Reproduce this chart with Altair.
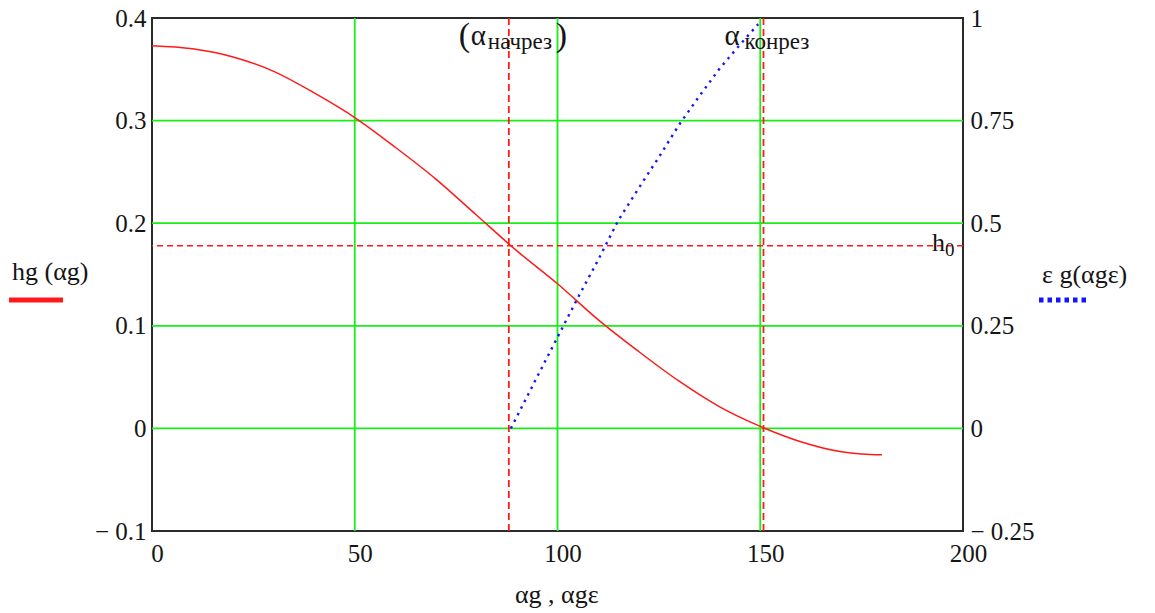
import altair as alt
import pandas as pd

# hg(αg) — height curve
alpha_g = [0, 10, 20, 30, 40, 50, 60, 70, 80, 90, 100, 110, 120, 130, 140,
           150, 160, 170, 175, 180]
hg = [0.373, 0.370, 0.362, 0.348, 0.327, 0.303, 0.274, 0.243, 0.208, 0.173,
      0.141, 0.106, 0.075, 0.046, 0.021, 0.002, -0.013, -0.0228, -0.025, -0.0258]

# εg(αgε) — right-hand scale
alpha_ge = [88.5, 95, 100, 105, 110, 115, 120, 125, 130, 135, 140, 145, 149.5]
eg = [0.0, 0.126, 0.222, 0.318, 0.41, 0.507, 0.585, 0.661, 0.74, 0.81,
      0.877, 0.935, 0.985]

h0 = 0.178
alpha_start = 88.0   # α начрез
alpha_end = 150.8    # α конрез

x_ticks = [0, 50, 100, 150, 200]
y_left_ticks = [-0.1, 0, 0.1, 0.2, 0.3, 0.4]
y_right_ticks = [-0.25, 0, 0.25, 0.5, 0.75, 1]
x_grid = [50, 100, 150]
y_grid = [0, 0.1, 0.2, 0.3]

SERIF = "'Liberation Serif', 'Times New Roman', 'DejaVu Serif', serif"
INK = "#151515"
GREEN = "#19ee19"
RED = "#ff1a1a"
BLUE = "#1414ff"

W, H = 811, 513

xs = alt.Scale(domain=[0, 200], nice=False, zero=False)
ys_left = alt.Scale(domain=[-0.1, 0.4], nice=False, zero=False)
ys_right = alt.Scale(domain=[-0.25, 1], nice=False, zero=False)

neg_fmt = "datum.value < 0 ? '\u2212 ' + format(-datum.value, '~g') : format(datum.value, '~g')"

x_axis = alt.Axis(values=x_ticks, title=None, grid=False, ticks=False, tickSize=0,
                  domain=False, labelFont=SERIF, labelFontSize=25, labelColor=INK,
                  labelPadding=10, labelOffset=5, labelAngle=0, labelFlush=False)
yl_axis = alt.Axis(values=y_left_ticks, title=None, grid=False, ticks=False, tickSize=0,
                   domain=False, orient="left", labelFont=SERIF, labelFontSize=25,
                   labelColor=INK, labelPadding=6, labelExpr=neg_fmt, labelFlush=False,
                   labelBaseline="middle")
yr_axis = alt.Axis(values=y_right_ticks, title=None, grid=False, ticks=False, tickSize=0,
                   domain=False, orient="right", labelFont=SERIF, labelFontSize=25,
                   labelColor=INK, labelPadding=7, labelExpr=neg_fmt, labelFlush=False,
                   labelBaseline="middle", labelAlign="left")

# every layer on a shared scale carries the same axis definition
X = lambda f: alt.X(f, scale=xs, axis=x_axis)
YL = lambda f: alt.Y(f, scale=ys_left, axis=yl_axis)

curve = pd.DataFrame({"a": alpha_g, "h": hg})
eps = pd.DataFrame({"a": alpha_ge, "e": eg})
gx = pd.DataFrame({"a": x_grid})
gy = pd.DataFrame({"h": y_grid})
marks_x = pd.DataFrame({"a": [alpha_start, alpha_end]})
start_df = pd.DataFrame({"a": [alpha_start]})
end_df = pd.DataFrame({"a": [alpha_end]})
h0_df = pd.DataFrame({"a": [200], "h": [h0]})

grid_v = alt.Chart(gx).mark_rule(color=GREEN, strokeWidth=1.8).encode(x=X("a:Q"))
grid_h = alt.Chart(gy).mark_rule(color=GREEN, strokeWidth=1.8).encode(y=YL("h:Q"))

h0_rule = alt.Chart(pd.DataFrame({"h": [h0]})).mark_rule(
    color=RED, strokeWidth=1.6, strokeDash=[6, 4]).encode(y=YL("h:Q"))
v_rules = alt.Chart(marks_x).mark_rule(
    color=RED, strokeWidth=1.8, strokeDash=[7, 4]).encode(x=X("a:Q"))

red_line = alt.Chart(curve).mark_line(
    color=RED, strokeWidth=1.5, interpolate="monotone").encode(
    x=X("a:Q"), y=YL("h:Q"))


def txt(df, s, dx, y, size, dy=0, on_h0=False):
    kw = dict(align="left", baseline="alphabetic", font=SERIF, fontSize=size,
              color=INK, dx=dx, dy=dy)
    enc = dict(x=X("a:Q"), text=alt.value(s))
    enc["y"] = YL("h:Q") if on_h0 else alt.value(y)
    return alt.Chart(df).mark_text(**kw).encode(**enc)


lbl_start = [
    txt(start_df, "(", -50, 28, 34),
    txt(start_df, "α", -38, 27, 29),
    txt(start_df, "начрез", -21, 31, 23),
    txt(start_df, ")", 47, 28, 34),
]
lbl_end = [
    txt(end_df, "α", -39, 27, 29),
    txt(end_df, "конрез", -19, 31, 23),
]
lbl_h0 = [
    txt(h0_df, "h", -31, 0, 26, dy=5, on_h0=True),
    txt(h0_df, "0", -18, 0, 19, dy=10, on_h0=True),
]


def free_text(s, x, y, size=26):
    return alt.Chart(pd.DataFrame({"t": [s]})).mark_text(
        align="left", baseline="alphabetic", font=SERIF, fontSize=size, color=INK
    ).encode(x=alt.value(x), y=alt.value(y), text="t:N")


legend_red = alt.Chart(pd.DataFrame({"t": [0]})).mark_rule(
    color=RED, strokeWidth=5).encode(
    x=alt.value(-143), x2=alt.value(-89), y=alt.value(282))
legend_blue = alt.Chart(pd.DataFrame({"t": [0]})).mark_rule(
    color=BLUE, strokeWidth=5, strokeDash=[4.5, 4]).encode(
    x=alt.value(887), x2=alt.value(935), y=alt.value(282))

texts = [
    free_text("hg (αg)", -140, 262),
    free_text("ε g(αgε)", 890, 265),
    free_text("αg , αgε", 363, 585),
]

left = alt.layer(grid_v, grid_h, h0_rule, v_rules, red_line,
                 *lbl_start, *lbl_end, *lbl_h0, legend_red, legend_blue, *texts)

blue_line = alt.Chart(eps).mark_line(
    color=BLUE, strokeWidth=2.4, strokeDash=[2.4, 5]).encode(
    x=X("a:Q"),
    y=alt.Y("e:Q", scale=ys_right, axis=yr_axis))

chart = alt.layer(left, blue_line).resolve_scale(y="independent").properties(
    width=W, height=H,
    padding={"left": 152, "top": 18, "right": 192, "bottom": 82},
    autosize=alt.AutoSizeParams(type="none"),
    background="white",
).configure_view(stroke="#2b2b2b", strokeWidth=2)

chart.save("out.html", embed_options={"renderer": "svg", "actions": False})
